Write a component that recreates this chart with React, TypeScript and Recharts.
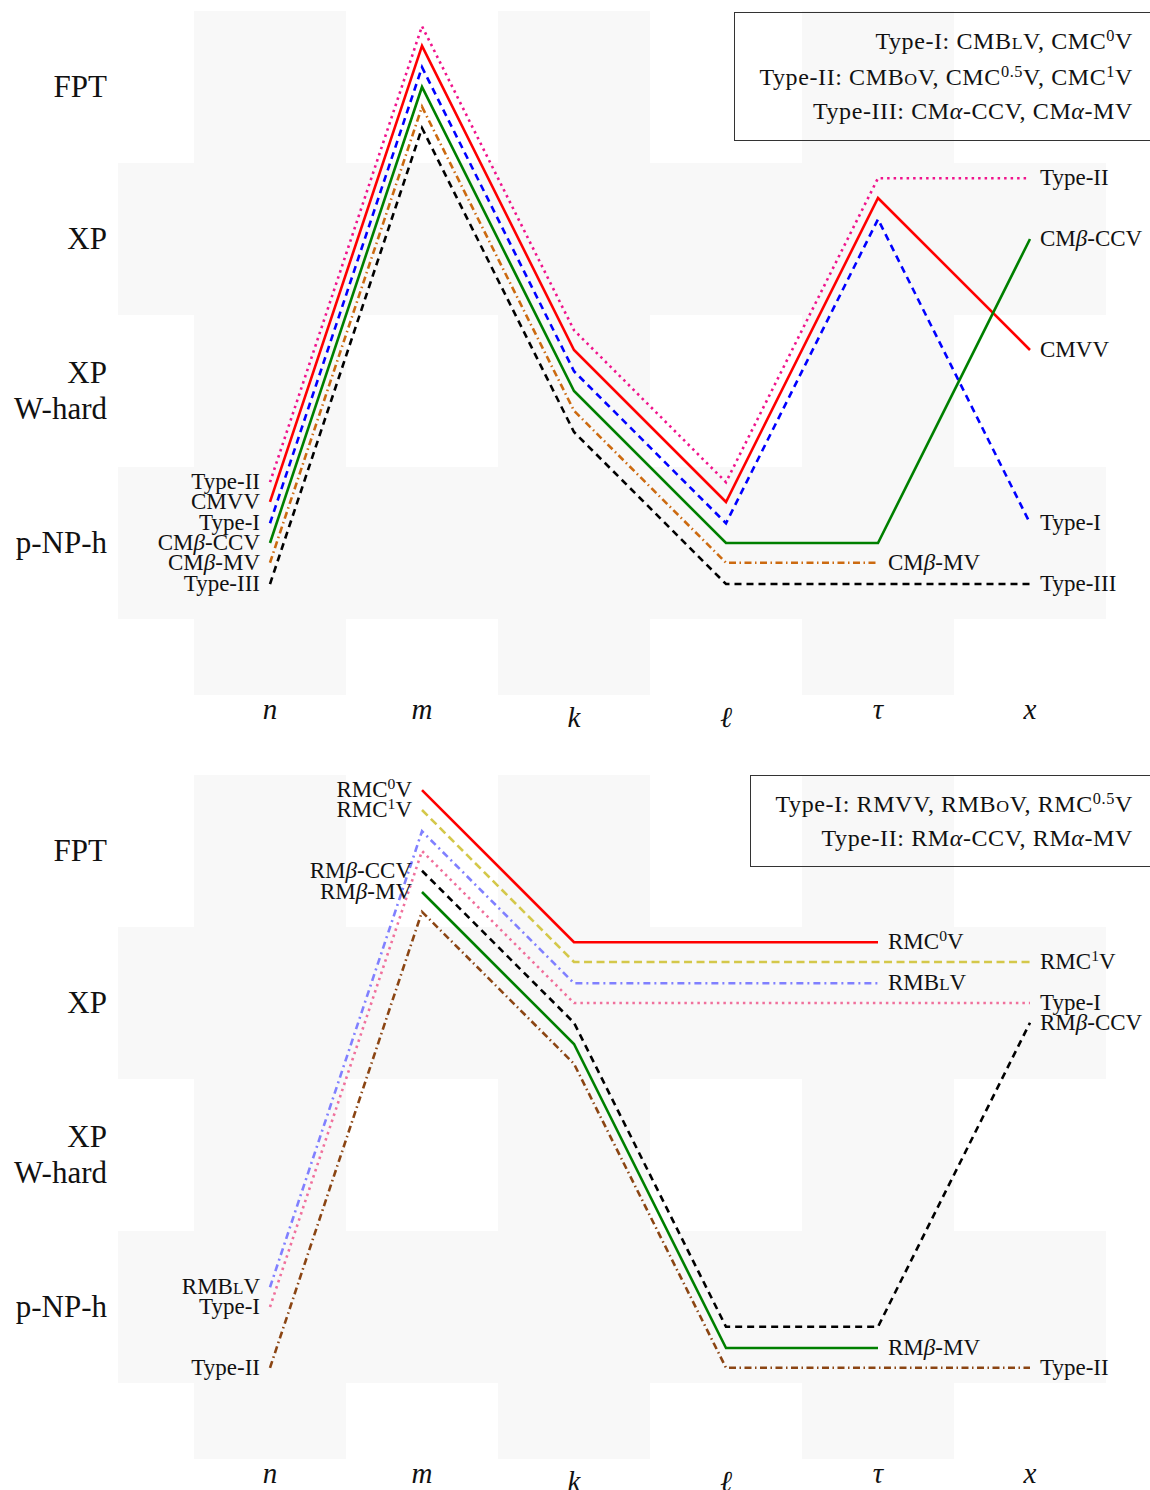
import React from "react";
import { LineChart, Line, XAxis, YAxis, ReferenceArea } from "recharts";

const FONT = "'Liberation Serif', 'DejaVu Serif', serif";

const xCats = ["n", "m", "k", "ℓ", "τ", "x"];
const xIndex = [0, 1, 2, 3, 4, 5];
const yLevels = [0, 1, 2, 3];
const yLevelLabels = [["p-NP-h"], ["XP", "W-hard"], ["XP"], ["FPT"]];

// upper panel (0 = p-NP-h, 1 = XP W-hard, 2 = XP, 3 = FPT; lines spread slightly inside a level)
const topTypeII = [0.4, 3.4, 1.4, 0.4, 2.4, 2.4];
const topCMVV = [0.27, 3.27, 1.27, 0.27, 2.27, 1.27];
const topTypeI = [0.13, 3.13, 1.13, 0.13, 2.13, 0.13];
const topCMbCCV = [0, 3, 1, 0, 0, 2];
const topCMbMV = [-0.13, 2.87, 0.87, -0.13, -0.13, null];
const topTypeIII = [-0.27, 2.73, 0.73, -0.27, -0.27, -0.27];

// lower panel
const botRMC0V = [null, 3.4, 2.4, 2.4, 2.4, null];
const botRMC1V = [null, 3.27, 2.27, 2.27, 2.27, 2.27];
const botRMBLV = [0.13, 3.13, 2.13, 2.13, 2.13, null];
const botTypeI = [0, 3, 2, 2, 2, 2];
const botRMbCCV = [null, 2.87, 1.87, -0.13, -0.13, 1.87];
const botRMbMV = [null, 2.73, 1.73, -0.27, -0.27, null];
const botTypeII = [-0.4, 2.6, 1.6, -0.4, -0.4, -0.4];

const topLegend = [
  "Type-I: CMB~L~V, CMC^{0}V",
  "Type-II: CMB~O~V, CMC^{0.5}V, CMC^{1}V",
  "Type-III: CM*α*-CCV, CM*α*-MV",
];
const botLegend = ["Type-I: RMVV, RMB~O~V, RMC^{0.5}V", "Type-II: RM*α*-CCV, RM*α*-MV"];

// ^{..} superscript, *..* italic, ~..~ small caps
function rich(s: string) {
  const parts = s.split(/(\^\{[^}]*\}|\*[^*]*\*|~[^~]*~)/).filter(Boolean);
  let raised = false;
  return parts.map((p, i) => {
    if (p.startsWith("^{")) {
      raised = true;
      return (
        <tspan key={i} dy={-8} fontSize="0.68em">
          {p.slice(2, -1)}
        </tspan>
      );
    }
    const dy = raised ? 8 : undefined;
    raised = false;
    if (p.startsWith("*"))
      return (
        <tspan key={i} dy={dy} fontStyle="italic">
          {p.slice(1, -1)}
        </tspan>
      );
    if (p.startsWith("~"))
      return (
        <tspan key={i} dy={dy} fontSize="0.74em">
          {p.slice(1, -1)}
        </tspan>
      );
    return (
      <tspan key={i} dy={dy}>
        {p}
      </tspan>
    );
  });
}

type Series = {
  key: string;
  values: (number | null)[];
  color: string;
  dash?: string;
  left?: string;
  right?: string;
};

const topSeries: Series[] = [
  { key: "t2", values: topTypeII, color: "#f0148c", dash: "2.5 4", left: "Type-II", right: "Type-II" },
  { key: "cmvv", values: topCMVV, color: "#ff0000", left: "CMVV", right: "CMVV" },
  { key: "t1", values: topTypeI, color: "#0000ff", dash: "7 5", left: "Type-I", right: "Type-I" },
  { key: "ccv", values: topCMbCCV, color: "#008000", left: "CM*β*-CCV", right: "CM*β*-CCV" },
  { key: "mv", values: topCMbMV, color: "#cc6a10", dash: "7 3.5 1.5 3.5", left: "CM*β*-MV", right: "CM*β*-MV" },
  { key: "t3", values: topTypeIII, color: "#000000", dash: "7 5", left: "Type-III", right: "Type-III" },
];

const botSeries: Series[] = [
  { key: "c0", values: botRMC0V, color: "#ff0000", left: "RMC^{0}V", right: "RMC^{0}V" },
  { key: "c1", values: botRMC1V, color: "#d4c84a", dash: "8 4.5", left: "RMC^{1}V", right: "RMC^{1}V" },
  { key: "bl", values: botRMBLV, color: "#8080ff", dash: "7 4 2 4", left: "RMB~L~V", right: "RMB~L~V" },
  { key: "t1", values: botTypeI, color: "#f0709c", dash: "2.5 4", left: "Type-I", right: "Type-I" },
  { key: "ccv", values: botRMbCCV, color: "#000000", dash: "7 5", left: "RM*β*-CCV", right: "RM*β*-CCV" },
  { key: "mv", values: botRMbMV, color: "#008000", left: "RM*β*-MV", right: "RM*β*-MV" },
  { key: "t2", values: botTypeII, color: "#8b4513", dash: "7 3.5 1.5 3.5", left: "Type-II", right: "Type-II" },
];

const SHADE = "#f8f8f8";
const LABEL_SIZE = 23;

function makeDot(s: Series) {
  const idx = s.values.map((v, i) => (v == null ? -1 : i)).filter((i) => i >= 0);
  const first = idx[0];
  const last = idx[idx.length - 1];
  return (p: any) => {
    const { cx, cy, index } = p;
    const k = `${s.key}-${index}`;
    if (cx == null || cy == null) return <g key={k} />;
    if (index === first && s.left)
      return (
        <text key={k} x={cx - 10} y={cy + 7} textAnchor="end" fontSize={LABEL_SIZE} fontFamily={FONT} fill="#111">
          {rich(s.left)}
        </text>
      );
    if (index === last && s.right)
      return (
        <text key={k} x={cx + 10} y={cy + 7} textAnchor="start" fontSize={LABEL_SIZE} fontFamily={FONT} fill="#111">
          {rich(s.right)}
        </text>
      );
    return <g key={k} />;
  };
}

function Panel({
  series,
  legend,
  box,
  marginTop,
  axisHeight,
  tickBase,
}: {
  series: Series[];
  legend: string[];
  box: { x: number; y: number; h: number; lines: number[] };
  marginTop: number;
  axisHeight: number;
  tickBase: number;
}) {
  const data = xIndex.map((i) => {
    const row: any = { xi: i };
    series.forEach((s) => (row[s.key] = s.values[i]));
    return row;
  });

  return (
    <div style={{ position: "relative", width: 1150, height: 745 }}>
      <LineChart width={1150} height={745} data={data} margin={{ top: marginTop, right: 44, bottom: 0, left: 0 }}>
        {[0, 2, 4].map((c) => (
          <ReferenceArea key={"c" + c} x1={c - 0.5} x2={c + 0.5} y1={-1} y2={3.5} fill={SHADE} fillOpacity={1} stroke="none" />
        ))}
        {[0, 2].map((r) => (
          <ReferenceArea key={"r" + r} x1={-1} x2={5.5} y1={r - 0.5} y2={r + 0.5} fill={SHADE} fillOpacity={1} stroke="none" />
        ))}
        <XAxis
          dataKey="xi"
          type="number"
          domain={[-1, 5.5]}
          ticks={xIndex}
          interval={0}
          height={axisHeight}
          tickLine={false}
          axisLine={false}
          tick={(p: any) => {
            const c = xCats[p.payload.value];
            const tall = c === "k" || c === "ℓ";
            return (
              <text x={p.x} y={tickBase + (tall ? 8 : 0)} textAnchor="middle" fontSize={29} fontStyle="italic" fontFamily={FONT} fill="#111">
                {c}
              </text>
            );
          }}
        />
        <YAxis
          type="number"
          domain={[-1, 3.5]}
          ticks={yLevels}
          interval={0}
          width={118}
          tickLine={false}
          axisLine={false}
          tick={(p: any) => {
            const lines = yLevelLabels[p.payload.value] || [];
            const y0 = p.y - (lines.length - 1) * 18 + 10;
            return (
              <text x={107} y={y0} textAnchor="end" fontSize={31} fontFamily={FONT} fill="#111">
                {lines.map((l, i) => (
                  <tspan key={i} x={107} dy={i === 0 ? 0 : 36}>
                    {l}
                  </tspan>
                ))}
              </text>
            );
          }}
        />
        {series.map((s) => (
          <Line
            key={s.key}
            dataKey={s.key}
            type="linear"
            stroke={s.color}
            strokeWidth={2.6}
            strokeDasharray={s.dash}
            dot={makeDot(s)}
            activeDot={false}
            isAnimationActive={false}
          />
        ))}
      </LineChart>
      <svg width={1150} height={745} style={{ position: "absolute", left: 0, top: 0, pointerEvents: "none" }}>
        <rect x={box.x} y={box.y} width={600} height={box.h} fill="none" stroke="#333" strokeWidth={1} />
        {legend.map((l, i) => (
          <text key={i} x={1133} y={box.lines[i]} textAnchor="end" fontSize={24} letterSpacing={0.6} fontFamily={FONT} fill="#111">
            {rich(l)}
          </text>
        ))}
      </svg>
    </div>
  );
}

export default function App() {
  return (
    <div style={{ position: "absolute", left: 0, top: 0, width: 1150, height: 1490, background: "#fff", overflow: "hidden" }}>
      <Panel
        series={topSeries}
        legend={topLegend}
        box={{ x: 734.5, y: 12.5, h: 128, lines: [49, 85, 119] }}
        marginTop={11}
        axisHeight={50}
        tickBase={719}
      />
      <Panel
        series={botSeries}
        legend={botLegend}
        box={{ x: 750.5, y: 30.5, h: 91, lines: [67, 101] }}
        marginTop={30}
        axisHeight={31}
        tickBase={738}
      />
    </div>
  );
}
